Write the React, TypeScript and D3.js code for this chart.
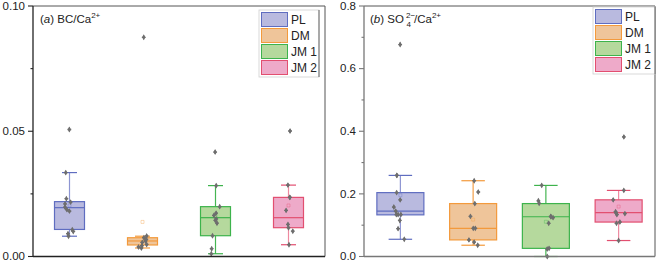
import React from "react";
import * as d3 from "d3";

const categories = ["PL", "DM", "JM 1", "JM 2"];
const fills = ["#b9badf", "#efc59a", "#b5d99d", "#eeaac9"];
const strokes = ["#5f6dc0", "#f39a3c", "#3db34c", "#e24f70"];
const whiskerColors = ["#8d95d2", "#f3a04a", "#45b552", "#ee8aa0"];

// Panel (a): BC/Ca2+ values per group
const bcPL = [0.0507, 0.0335, 0.0231, 0.0217, 0.021, 0.0197, 0.0187, 0.0181, 0.0107, 0.01, 0.0091, 0.0081];
const bcDM = [0.0875, 0.0082, 0.0075, 0.0068, 0.0062, 0.0056, 0.0048, 0.0043, 0.0038, 0.0034];
const bcJM1 = [0.0417, 0.0283, 0.0199, 0.0173, 0.0164, 0.015, 0.0144, 0.0133, 0.0083, 0.0031, 0.0011];
const bcJM2 = [0.0501, 0.0285, 0.0236, 0.0236, 0.0184, 0.0128, 0.0115, 0.0101, 0.0047];
// [whisker low, q1, median, q3, whisker high]
const bcBoxPL = [0.0081, 0.0108, 0.0195, 0.0219, 0.0335];
const bcBoxDM = [0.0034, 0.0046, 0.0062, 0.0075, 0.0081];
const bcBoxJM1 = [0.0011, 0.0083, 0.0155, 0.0199, 0.0283];
const bcBoxJM2 = [0.0047, 0.0115, 0.0155, 0.0236, 0.0285];
const bcTicks = [0, 0.05, 0.1];
const bcMinor = [0.025, 0.075];

// Panel (b): SO4 2-/Ca2+ values per group
const soPL = [0.677, 0.259, 0.259, 0.204, 0.181, 0.158, 0.145, 0.134, 0.134, 0.134, 0.115, 0.089, 0.055];
const soDM = [0.242, 0.206, 0.169, 0.128, 0.09, 0.09, 0.053, 0.046, 0.036];
const soJM1 = [0.227, 0.178, 0.17, 0.128, 0.124, 0.127, 0.106, 0.026, 0.024, 0.0];
const soJM2 = [0.382, 0.211, 0.181, 0.143, 0.139, 0.137, 0.134, 0.11, 0.106, 0.051];
const soBoxPL = [0.055, 0.133, 0.145, 0.204, 0.259];
const soBoxDM = [0.036, 0.053, 0.09, 0.169, 0.242];
const soBoxJM1 = [0.0, 0.026, 0.127, 0.169, 0.227];
const soBoxJM2 = [0.051, 0.11, 0.14, 0.181, 0.211];
const soTicks = [0, 0.2, 0.4, 0.6, 0.8];
const soMinor = [0.1, 0.3, 0.5, 0.7];

const FONT = "'Liberation Sans', Arial, Helvetica, sans-serif";

type PanelProps = {
  x0: number; x1: number; y0: number; y1: number;
  domain: [number, number];
  points: number[][]; boxes: number[][];
  ticks: number[]; minor: number[]; fmt: (v: number) => string;
  boxW: number; jitter: number; seed: number;
  axisColor: string;
  legendX: number; legendY: number; legendW: number; legendH: number;
  title: React.ReactNode;
};

function Panel(p: PanelProps) {
  const x = d3.scaleBand<string>().domain(categories).range([p.x0, p.x1]).padding(0);
  const y = d3.scaleLinear().domain(p.domain).range([p.y1, p.y0]);
  const rng = d3.randomUniform.source(d3.randomLcg(p.seed))(-p.jitter, p.jitter);
  const sym = d3.symbol(d3.symbolDiamond, 10)() as string;
  const cross = d3.symbol(d3.symbolCross, 8)() as string;
  const sq = d3.symbol(d3.symbolSquare, 9)() as string;
  const capW = p.boxW / 2;
  return (
    <g fontFamily={FONT}>
      {categories.map((c, i) => {
        const cx = (x(c) as number) + x.bandwidth() / 2;
        const [wl, q1, med, q3, wh] = p.boxes[i];
        const mean = d3.mean(p.points[i]) as number;
        return (
          <g key={c}>
            <line x1={cx} x2={cx} y1={y(wh)} y2={y(q3)} stroke={whiskerColors[i]} strokeWidth={1.2} />
            <line x1={cx} x2={cx} y1={y(q1)} y2={y(wl)} stroke={whiskerColors[i]} strokeWidth={1.2} />
            <line x1={cx - capW / 2} x2={cx + capW / 2} y1={y(wh)} y2={y(wh)} stroke={strokes[i]} strokeWidth={1.2} />
            <line x1={cx - capW / 2} x2={cx + capW / 2} y1={y(wl)} y2={y(wl)} stroke={strokes[i]} strokeWidth={1.2} />
            <rect x={cx - p.boxW / 2} y={y(q3)} width={p.boxW} height={y(q1) - y(q3)} fill={fills[i]} stroke={strokes[i]} strokeWidth={1.2} />
            <line x1={cx - p.boxW / 2} x2={cx + p.boxW / 2} y1={y(med)} y2={y(med)} stroke={strokes[i]} strokeWidth={1.2} />
            <path d={sq} transform={`translate(${cx},${y(mean)})`} fill="none" stroke={strokes[i]} strokeOpacity={0.6} strokeWidth={0.6} />
            {p.points[i].map((v, j) => {
              const px = cx + rng();
              return (
                <g key={j} transform={`translate(${px},${y(v)})`} fill="#6e6e6e">
                  <path d={sym} />
                  <path d={cross} />
                </g>
              );
            })}
          </g>
        );
      })}
      {/* frame */}
      <line x1={p.x0} x2={p.x1} y1={p.y0} y2={p.y0} stroke="#555" strokeWidth={1} />
      <line x1={p.x1} x2={p.x1} y1={p.y0} y2={p.y1} stroke="#555" strokeWidth={1} />
      <line x1={p.x0} x2={p.x1} y1={p.y1} y2={p.y1} stroke={p.axisColor} strokeWidth={1.3} />
      <line x1={p.x0} x2={p.x0} y1={p.y0} y2={p.y1} stroke={p.axisColor} strokeWidth={1.3} />
      {p.ticks.map((t) => (
        <g key={t}>
          <line x1={p.x0 - 5} x2={p.x0} y1={y(t)} y2={y(t)} stroke={p.axisColor} strokeWidth={1.1} />
          <text x={p.x0 - 8} y={y(t) + 3.8} textAnchor="end" fontSize={11.5} fill="#222">{p.fmt(t)}</text>
        </g>
      ))}
      {p.minor.map((t) => (
        <line key={t} x1={p.x0 - 2.5} x2={p.x0} y1={y(t)} y2={y(t)} stroke={p.axisColor} strokeWidth={1.1} />
      ))}
      {p.title}
      {/* legend */}
      <rect x={p.legendX} y={p.legendY} width={p.legendW} height={p.legendH} fill="white" stroke="#cfcfcf" strokeWidth={0.8} />
      <line x1={p.legendX + p.legendW} x2={p.legendX + p.legendW} y1={p.legendY} y2={p.legendY + p.legendH} stroke="#666" strokeWidth={1} />
      {categories.map((c, i) => {
        const ry = p.legendY + 2.5 + i * 16;
        return (
          <g key={c}>
            <rect x={p.legendX + 2.5} y={ry} width={26} height={14} fill={fills[i]} stroke={strokes[i]} strokeWidth={1} />
            <text x={p.legendX + 32} y={ry + 11.5} fontSize={12} fill="#222">{c}</text>
          </g>
        );
      })}
    </g>
  );
}

export default function App() {
  return (
    <svg width={657} height={261} style={{ position: "absolute", left: 0, top: 0, background: "white" }}>
      <Panel
        x0={33} x1={325} y0={6} y1={256.5}
        domain={[0, 0.1]}
        points={[bcPL, bcDM, bcJM1, bcJM2]}
        boxes={[bcBoxPL, bcBoxDM, bcBoxJM1, bcBoxJM2]}
        ticks={bcTicks} minor={bcMinor} fmt={d3.format(".2f")}
        boxW={30} jitter={4.5} seed={0.37}
        axisColor="#222"
        legendX={259} legendY={10} legendW={60} legendH={67}
        title={
          <text x={40} y={23} fontSize={11.5} fill="#222" fontFamily={FONT}>
            (<tspan fontStyle="italic">a</tspan>) BC/Ca<tspan fontSize={8} dy={-5}>2+</tspan>
          </text>
        }
      />
      <Panel
        x0={364} x1={655} y0={6} y1={256.5}
        domain={[0, 0.8]}
        points={[soPL, soDM, soJM1, soJM2]}
        boxes={[soBoxPL, soBoxDM, soBoxJM1, soBoxJM2]}
        ticks={soTicks} minor={soMinor} fmt={d3.format(".1f")}
        boxW={47} jitter={7.5} seed={0.81}
        axisColor="#777"
        legendX={593} legendY={7} legendW={62} legendH={67}
        title={
          <g fontFamily={FONT} fill="#222">
            <text x={370} y={23} fontSize={11.5}>
              (<tspan fontStyle="italic">b</tspan>) SO
            </text>
            <text x={406} y={18} fontSize={8}>2−</text>
            <text x={406.5} y={27} fontSize={8}>4</text>
            <text x={414} y={23} fontSize={11.5}>
              /Ca<tspan fontSize={8} dy={-5}>2+</tspan>
            </text>
          </g>
        }
      />
    </svg>
  );
}
